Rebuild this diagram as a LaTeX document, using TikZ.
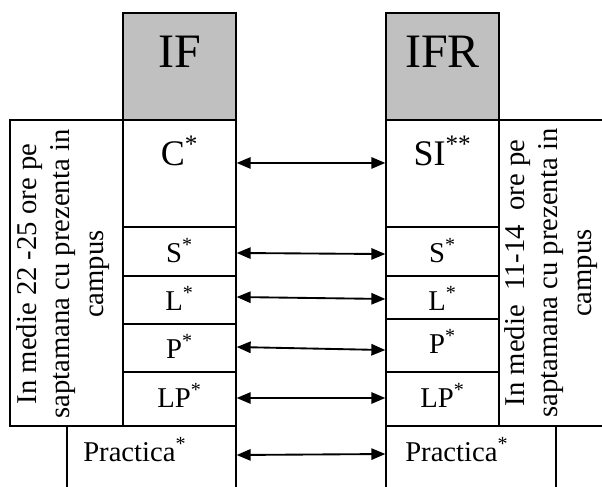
\documentclass[tikz,border=0pt]{standalone}
\usepackage{fontspec}
\setmainfont{Liberation Serif}
\usetikzlibrary{arrows.meta}
\definecolor{headgray}{RGB}{192,192,192}

\begin{document}
\begin{tikzpicture}[x=0.75pt, y=-0.75pt,
	cell/.style={draw, line width=1pt, inner sep=0pt, minimum width=84.75pt},
	head/.style={cell, fill=headgray, minimum height=80.25pt},
	big/.style={font=\fontsize{36}{42}\selectfont, anchor=base},
	mid/.style={font=\fontsize{27}{32}\selectfont, anchor=base},
	small/.style={font=\fontsize{21.5}{25}\selectfont, anchor=base},
	side/.style={font=\fontsize{21.5}{25}\selectfont, rotate=90, align=center},
	link/.style={{Triangle[length=10.5pt,width=8.5pt]}-{Triangle[length=10.5pt,width=8.5pt]}, line width=1.4pt}]
	\clip (0,0) rectangle (602,486);

	\node[cell, minimum height=229.5pt] (sideL) at (66.5,273) {};
	\node[cell, minimum width=90.75pt, minimum height=229.5pt] (sideR) at (559.5,273) {};

	\node[head] (ifHead) at (179.5,66.5) {};
	\node[cell, minimum height=80.25pt] (ifC) at (179.5,173.5) {};
	\node[cell, minimum height=36.75pt] (ifS) at (179.5,251.5) {};
	\node[cell, minimum height=36pt] (ifL) at (179.5,300) {};
	\node[cell, minimum height=36pt] (ifP) at (179.5,348) {};
	\node[cell, minimum height=40.5pt] (ifLP) at (179.5,399) {};
	\node[cell, minimum width=126.75pt, minimum height=55.5pt] (ifPr) at (151.5,463) {};

	\node[head] (ifrHead) at (442.5,66.5) {};
	\node[cell, minimum height=80.25pt] (ifrSI) at (442.5,173.5) {};
	\node[cell, minimum height=36.75pt] (ifrS) at (442.5,251.5) {};
	\node[cell, minimum height=32.25pt] (ifrL) at (442.5,297.5) {};
	\node[cell, minimum height=39.75pt] (ifrP) at (442.5,345.5) {};
	\node[cell, minimum height=40.5pt] (ifrLP) at (442.5,399) {};
	\node[cell, minimum width=127.5pt, minimum height=55.5pt] (ifrPr) at (471,463) {};

	\node[big] (ifName) at (179.5,67) {IF};
	\node[big] (ifrName) at (442.5,67) {IFR};
	\node[mid] (ifCtxt) at (179.5,165) {C\textsuperscript{*}};
	\node[mid] (ifrSItxt) at (442.5,165) {SI\textsuperscript{**}};
	\node[small] (ifStxt) at (179.5,262) {S\textsuperscript{*}};
	\node[small] (ifrStxt) at (442.5,262) {S\textsuperscript{*}};
	\node[small] (ifLtxt) at (179.5,310) {L\textsuperscript{*}};
	\node[small] (ifrLtxt) at (442.5,310) {L\textsuperscript{*}};
	\node[small] (ifPtxt) at (179.5,358) {P\textsuperscript{*}};
	\node[small] (ifrPtxt) at (442.5,353) {P\textsuperscript{*}};
	\node[small] (ifLPtxt) at (179.5,407) {LP\textsuperscript{*}};
	\node[small] (ifrLPtxt) at (442.5,407) {LP\textsuperscript{*}};
	\node[small, anchor=base west, inner sep=0pt] (ifPrtxt) at (83,461) {Practica\textsuperscript{*}};
	\node[small, anchor=base west, inner sep=0pt] (ifrPrtxt) at (405,461) {Practica\textsuperscript{*}};

	\node[side] (sideLtxt) at (63,274) {In medie 22 -25 ore pe\\saptamana cu prezenta in\\campus};
	\node[side] (sideRtxt) at (551,273) {In medie\ \ 11-14\ \ ore pe\\saptamana cu prezenta in\\campus};

	\draw[link] ([yshift=7.9pt]ifC.east) -- ([yshift=7.9pt]ifrSI.west);
	\draw[link] ([yshift=-1.1pt]ifS.east) -- ([yshift=-1.9pt]ifrS.west);
	\draw[link] ([yshift=2.25pt]ifL.east) -- ([yshift=-1.1pt]ifrL.west);
	\draw[link] ([yshift=0.75pt]ifP.east) -- ([yshift=-3.4pt]ifrP.west);
	\draw[link] ([yshift=0.75pt]ifLP.east) -- ([yshift=0.75pt]ifrLP.west);
	\draw[link] ([yshift=6pt]ifPr.east) -- ([yshift=6.75pt]ifrPr.west);
\end{tikzpicture}
\end{document}
